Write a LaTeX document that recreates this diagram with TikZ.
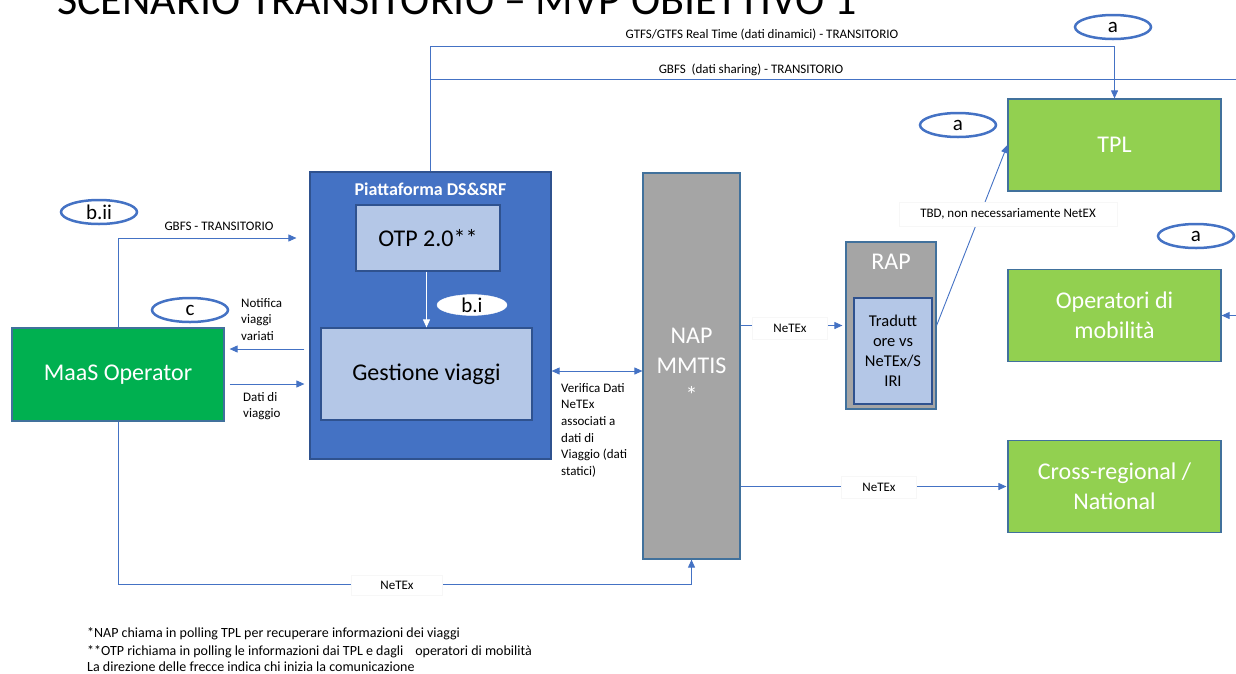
\documentclass[tikz,border=0pt]{standalone}
\usepackage{fontspec}
\setmainfont{Carlito}
\usetikzlibrary{arrows.meta,shapes.geometric,calc}
\definecolor{lnblue}{HTML}{4472C4}
\definecolor{lgreen}{HTML}{92D050}
\definecolor{maasgreen}{HTML}{00B050}
\definecolor{pdsblue}{HTML}{4472C4}
\definecolor{pdsborder}{HTML}{2F528F}
\definecolor{lightbox}{HTML}{B4C7E7}
\definecolor{napgray}{HTML}{A5A5A5}
\definecolor{bordblue}{HTML}{41719C}
\tikzset{
  box/.style={draw=bordblue, line width=1.2pt, inner sep=0pt, align=center, text=white, font=\fontsize{24}{30}\selectfont},
  greenbox/.style={box, fill=lgreen, minimum width=213pt, minimum height=92pt},
  graybox/.style={box, fill=napgray},
  lbox/.style={box, fill=lightbox, draw=pdsborder, text=black},
  bubble/.style={ellipse, draw=lnblue, line width=2.5pt, fill=white, minimum width=76pt, minimum height=24pt, inner sep=0pt, font=\fontsize{21}{21}\selectfont},
  conn/.style={draw=lnblue, line width=0.9pt},
  arr/.style={conn, -{Triangle[length=8pt,width=7pt]}},
  lbl/.style={font=\fontsize{13}{16.7}\selectfont, inner sep=0pt},
  wlbl/.style={lbl, fill=white, draw=black!3, line width=0.4pt, inner xsep=21pt, inner ysep=7pt},
  foot/.style={font=\fontsize{14}{17}\selectfont, inner sep=0pt, anchor=west}
}
\begin{document}
\begin{tikzpicture}[x=1pt,y=-1pt]
\useasboundingbox (0,0) rectangle (1236,673);

% title
\node[font=\fontsize{44}{44}\selectfont, anchor=base west, inner sep=0pt] (title) at (57,14) {SCENARIO TRANSITORIO – MVP OBIETTIVO 1};

% right column boxes
\node[greenbox] (tpl) at (1114.5,145) {TPL};
\node[greenbox] (opm) at (1114.5,315.5) {Operatori di\\mobilità};
\node[greenbox] (cross) at (1114.5,486.5) {Cross-regional /\\National};

% MaaS
\node[box, fill=maasgreen, minimum width=212pt, minimum height=93pt] (maas) at (118,374.5) {MaaS Operator};

% Piattaforma
\node[box, fill=pdsblue, draw=pdsborder, minimum width=241pt, minimum height=287pt] (pds) at (430.5,315.5) {};
\node[font=\bfseries\fontsize{18}{20}\selectfont, text=white, inner sep=0pt] (pdst) at (430.5,189) {Piattaforma DS\&SRF};
\node[lbox, minimum width=144pt, minimum height=66pt] (otp) at (428,238) {OTP 2.0**};
\node[lbox, minimum width=211pt, minimum height=92pt] (gv) at (426.5,374) {Gestione viaggi};
\draw[white, line width=0.9pt, -{Triangle[length=8pt,width=7pt]}] (gv.north |- otp.south) -- (gv.north);
\node[ellipse, fill=white, draw=white, minimum width=70pt, minimum height=20pt, inner sep=0pt, font=\fontsize{21}{21}\selectfont] (bi) at (472,305) {b.i};

% NAP
\node[graybox, minimum width=97pt, minimum height=386pt] (nap) at (691.5,366) {NAP\\MMTIS\\*};

% RAP
\node[graybox, minimum width=90pt, minimum height=167pt] (rap) at (891,325.5) {};
\node[text=white, font=\fontsize{24}{30}\selectfont, inner sep=0pt] (rapt) at (891,262) {RAP};
\node[lbox, minimum width=78pt, minimum height=106pt, font=\fontsize{16.5}{20}\selectfont] (trad) at (893,351) {Tradutt\\ore vs\\NeTEx/S\\IRI};

% bubbles
\node[bubble] (a1) at (1113,27) {a};
\node[bubble] (a2) at (958,125) {a};
\node[bubble] (a3) at (1196,236) {a};
\node[bubble] (bii) at (99,212) {b.ii};
\node[bubble] (c) at (190,310) {c};

% helper coordinates
\coordinate (ytop) at (0,46);
\coordinate (ygb) at (0,79);
\coordinate (redge) at (1236,79);
\coordinate (ropm) at (1236,315.5);
\coordinate (yv) at (0,371);
\coordinate (ynot) at (0,349);
\coordinate (ydat) at (0,384);
\coordinate (ygbfs) at (0,238);
\coordinate (ybot) at (0,584);

% top connectors
\draw[arr] (pds.north) -- (pds.north |- ytop) -- (tpl.north |- ytop) -- (tpl.north);
\draw[conn] (pds.north |- ygb) -- (redge);
\node[lbl] (lgtfs) at (762,35) {GTFS/GTFS Real Time (dati dinamici) - TRANSITORIO};
\node[lbl] (lgbfs) at (751,70) {GBFS\ \ (dati sharing) - TRANSITORIO};

% right side
\draw[arr] (ropm) -- (opm.east);
\draw[arr] (rap.east) -- (tpl.west);
\node[wlbl] (ltbd) at (1008,214) {TBD, non necessariamente NetEX};

\draw[arr, shorten >=3pt] (nap.east |- rap.west) -- (rap.west);
\node[wlbl] (lnr) at (790,328) {NeTEx};
\draw[arr, shorten >=1pt] (nap.east |- cross.west) -- (cross.west);
\node[wlbl] (lnc) at (879,487) {NeTEx};

% PDS <-> NAP
\draw[conn, {Triangle[length=8pt,width=7pt]}-{Triangle[length=8pt,width=7pt]}] (pds.east |- yv) -- (nap.west |- yv);
\node[lbl, align=left, anchor=north west] (lver) at (561,383) {Verifica Dati\\NeTEx\\associati a\\dati di\\Viaggio (dati\\statici)};

% MaaS <-> PDS
\draw[arr, shorten <=5pt, shorten >=5pt] (pds.west |- ynot) -- (maas.east |- ynot);
\node[lbl, align=left, anchor=north west] (lnot) at (241,298) {Notifica\\viaggi\\variati};
\draw[arr, shorten <=5pt, shorten >=5pt] (maas.east |- ydat) -- (pds.west |- ydat);
\node[lbl, align=left, anchor=north west] (ldat) at (243,392) {Dati di\\viaggio};

\draw[arr, shorten >=13pt] (maas.north) |- (pds.west |- ygbfs);
\node[lbl] (lgbfs2) at (219,226) {GBFS - TRANSITORIO};

% bottom
\draw[arr] (maas.south) -- (maas.south |- ybot) -- (nap.south |- ybot) -- (nap.south);
\node[wlbl, inner xsep=29pt, inner ysep=6pt] (lnb) at (397,585) {NeTEx};

% footnotes
\node[foot] (f1) at (87,634) {*NAP chiama in polling TPL per recuperare informazioni dei viaggi};
\node[foot] (f2) at (87,651.5) {**OTP richiama in polling le informazioni dai TPL e dagli\hspace{12pt}operatori di mobilità};
\node[foot] (f3) at (87,667) {La direzione delle frecce indica chi inizia la comunicazione};
\end{tikzpicture}
\end{document}
